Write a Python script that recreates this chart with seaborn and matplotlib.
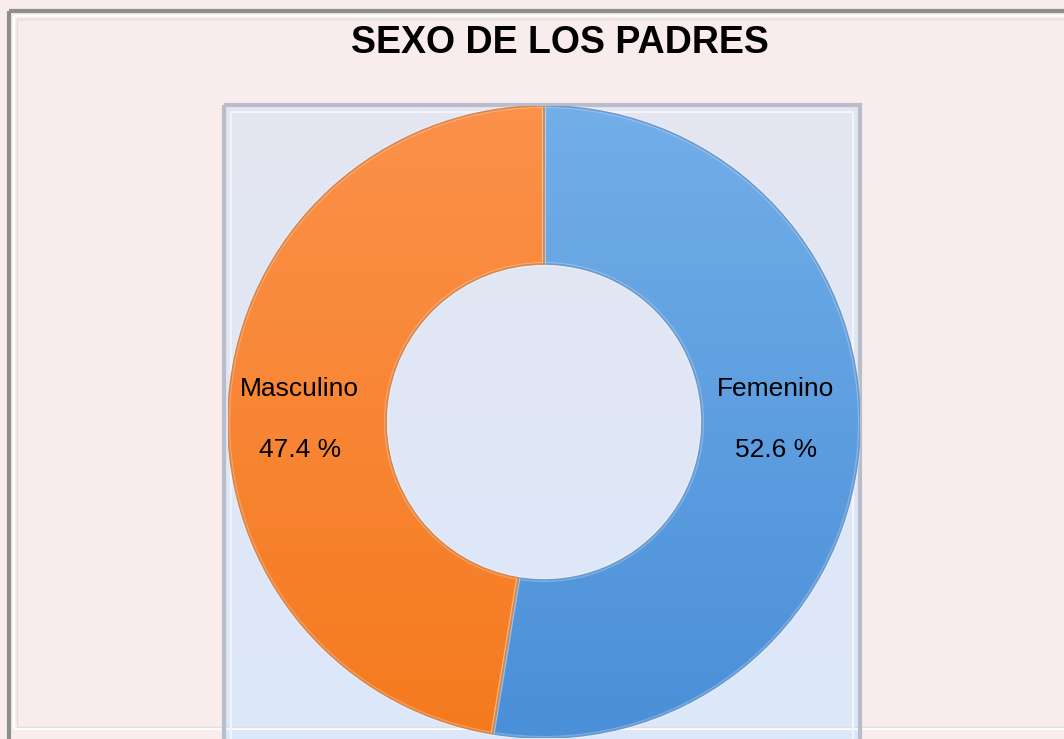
import numpy as np
import matplotlib
matplotlib.use("Agg")
import matplotlib.pyplot as plt
import seaborn as sns
from matplotlib.patches import Rectangle, PathPatch
from matplotlib.colors import LinearSegmentedColormap

# ---- data ----
categories = ["Femenino", "Masculino"]
values = [52.6, 47.4]
title = "SEXO DE LOS PADRES"

sns.set_theme(style="white")
plt.rcParams['font.family'] = ['Liberation Sans', 'DejaVu Sans']

W, H = 1064, 739
fig = plt.figure(figsize=(W / 100, H / 100), dpi=100)
fig.patch.set_facecolor("#f8ecec")

# background axes in pixel coords
bg = fig.add_axes([0, 0, 1, 1])
bg.set_xlim(0, W)
bg.set_ylim(H, 0)
bg.axis("off")
# outer frame
bg.add_patch(Rectangle((9, 11), W + 20, H + 20, fill=False, ec="#8e8e8e", lw=3))
bg.add_patch(Rectangle((14, 16), W + 20, 713, fill=False, ec="#ffffff", lw=1.5, alpha=0.9))
bg.add_patch(Rectangle((17, 19), W + 20, 708, fill=False, ec="#e2dcdc", lw=1, alpha=0.9))
# plot panel with gradient
grad = np.linspace(0, 1, 256).reshape(-1, 1)
pcmap = LinearSegmentedColormap.from_list("p", ["#e4e6f1", "#dce8fb"])
bg.imshow(grad, cmap=pcmap, extent=(224, 860, 739, 105), aspect="auto", zorder=0)
bg.add_patch(Rectangle((224, 105), 636, 640, fill=False, ec="#b9bdc9", lw=3, zorder=1))
bg.add_patch(Rectangle((231, 112), 622, 640, fill=False, ec="#f4f5fa", lw=1.5, zorder=1))
bg.text(560, 43, title, ha="center", va="center", fontsize=27, fontweight="bold", color="#000000")

# donut axes
cx, cy, R = 544, 422, 316
ax = fig.add_axes([(cx - R) / W, 1 - (cy + R) / H, 2 * R / W, 2 * R / H])
ax.axis("off")
ax.patch.set_alpha(0)

top_cols = ["#72aee8", "#fb914a"]
bot_cols = ["#4a8fd8", "#f57a1e"]
edge_cols = ["#3a78bd", "#c85e12"]
wedges, _ = ax.pie(values, startangle=90, counterclock=False, radius=1,
                   colors=top_cols, wedgeprops=dict(width=0.5, ec="none"))
for w, tc, bc, ec in zip(wedges, top_cols, bot_cols, edge_cols):
    cm = LinearSegmentedColormap.from_list("g", [tc, bc])
    im = ax.imshow(grad, cmap=cm, extent=(-1, 1, -1, 1), aspect="auto", zorder=2)
    im.set_clip_path(w)
    w.set_zorder(1)
    ax.add_patch(PathPatch(w.get_path(), transform=w.get_transform(), fill=False,
                           ec=ec, lw=1.2, zorder=3))
    ax.add_patch(PathPatch(w.get_path(), transform=w.get_transform(), fill=False,
                           ec="white", lw=3, alpha=0.25, zorder=3))
ax.set_xlim(-1, 1)
ax.set_ylim(-1, 1)
ax.set_aspect("equal")

# labels at wedge midpoints
total = sum(values)
start = 90.0
for cat, v in zip(categories, values):
    span = 360 * v / total
    mid = np.deg2rad(start - span / 2)
    start -= span
    x = np.sign(np.cos(mid)) * 0.753 - 0.02
    ax.text(x, 0.105, cat, ha="center", va="center", fontsize=19, color="#000000", zorder=5)
    ax.text(x, -0.09, f"{v:.1f} %", ha="center", va="center", fontsize=19, color="#000000", zorder=5)

fig.savefig("out.png", dpi=100, facecolor=fig.get_facecolor())
